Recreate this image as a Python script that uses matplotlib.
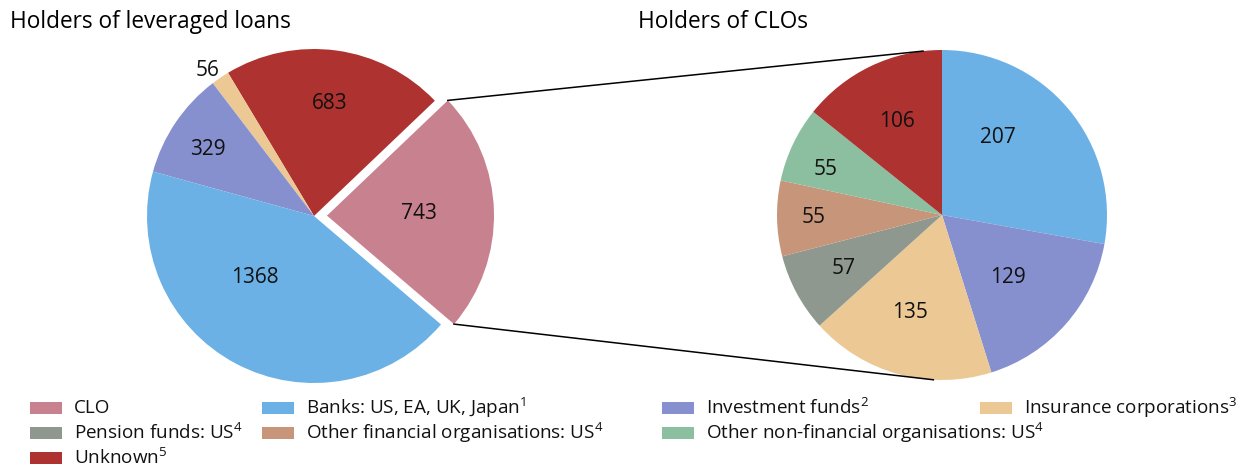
import matplotlib.pyplot as plt
from matplotlib.patches import Rectangle
import numpy as np

plt.rcParams['font.family'] = ['Open Sans', 'DejaVu Sans']

# left pie: holders of leveraged loans (USD bn)
loans_names = ["CLO", "Unknown", "Insurance corporations", "Investment funds", "Banks"]
loans_vals = [743, 683, 56, 329, 1368]

# right pie: holders of CLOs
clo_names = ["Banks", "Investment funds", "Insurance corporations", "Pension funds",
             "Other financial", "Other non-financial", "Unknown"]
clo_vals = [207, 129, 135, 57, 55, 55, 106]

colors = {
    "CLO": "#c8818f",
    "Banks": "#6cb1e6",
    "Investment funds": "#8790cf",
    "Insurance corporations": "#ecc994",
    "Pension funds": "#8e988f",
    "Other financial": "#c7967a",
    "Other non-financial": "#8cbf9f",
    "Unknown": "#ae3230",
}

legend_keys = ["CLO", "Banks", "Investment funds", "Insurance corporations",
               "Pension funds", "Other financial", "Other non-financial", "Unknown"]
legend_text = ["CLO", r"Banks: US, EA, UK, Japan$^{\mathregular{1}}$",
               r"Investment funds$^{\mathregular{2}}$", r"Insurance corporations$^{\mathregular{3}}$",
               r"Pension funds: US$^{\mathregular{4}}$", r"Other financial organisations: US$^{\mathregular{4}}$",
               r"Other non-financial organisations: US$^{\mathregular{4}}$", r"Unknown$^{\mathregular{5}}$"]

H = 471
fig = plt.figure(figsize=(12.4, 4.71), dpi=100)
ax = fig.add_axes([0, 0, 1, 1])

# left pie (explode is in data units here)
lc = (314, H - 216)
lr = 167
wl, _ = ax.pie(loans_vals, colors=[colors[n] for n in loans_names], startangle=-40.5,
               counterclock=True, center=lc, radius=lr, explode=[13, 0, 0, 0, 0],
               wedgeprops=dict(linewidth=0), frame=True)
# label placement: (radius fraction, angle offset)
l_pos = [(0.55, 0), (0.68, 0), (1.08, 2), (0.75, 2), (0.51, -16)]
for w, v, (rf, off) in zip(wl, loans_vals, l_pos):
    a = np.deg2rad((w.theta1 + w.theta2) / 2 + off)
    cx, cy = w.center
    ax.text(cx + rf * lr * np.cos(a), cy + rf * lr * np.sin(a), str(v),
            ha='center', va='center', fontsize=15, color='#111111')

# right pie
rc = (942, H - 215)
rr = 165
wr, _ = ax.pie(clo_vals, colors=[colors[n] for n in clo_names], startangle=90,
               counterclock=False, center=rc, radius=rr,
               wedgeprops=dict(linewidth=0), frame=True)
r_pos = [(0.58, 14), (0.55, -2), (0.62, -3), (0.68, 0), (0.78, 0), (0.76, 4), (0.63, 0)]
for w, v, (rf, off) in zip(wr, clo_vals, r_pos):
    a = np.deg2rad((w.theta1 + w.theta2) / 2 + off)
    ax.text(rc[0] + rf * rr * np.cos(a), rc[1] + rf * rr * np.sin(a), str(v),
            ha='center', va='center', fontsize=15, color='#111111')

ax.set_xlim(0, 1240)
ax.set_ylim(0, H)
ax.set_aspect('equal')
ax.axis('off')

# connector lines from the CLO wedge to the right pie
clo_w = wl[0]
cx, cy = clo_w.center
for th_l, th_r in [(clo_w.theta2, 96.6), (clo_w.theta1, -93)]:
    p1 = (cx + lr * np.cos(np.deg2rad(th_l)), cy + lr * np.sin(np.deg2rad(th_l)))
    p2 = (rc[0] + rr * np.cos(np.deg2rad(th_r)), rc[1] + rr * np.sin(np.deg2rad(th_r)))
    ax.plot([p1[0], p2[0]], [p1[1], p2[1]], color='black', lw=1.1)

# titles
ax.text(10, H - 22, "Holders of leveraged loans", fontsize=16.3, ha='left', va='center')
ax.text(638, H - 22, "Holders of CLOs", fontsize=16.3, ha='left', va='center')

# legend, placed by hand
col_x = [30, 262, 662, 980]
row_y = [408, 433, 458]
slots = [(0, 0), (0, 1), (0, 2), (0, 3), (1, 0), (1, 1), (1, 2), (2, 0)]
for key, txt, (r, c) in zip(legend_keys, legend_text, slots):
    x = col_x[c]
    y = H - row_y[r]
    ax.add_patch(Rectangle((x, y - 6), 32, 12, color=colors[key], lw=0))
    ax.text(x + 44, y, txt, fontsize=13.6, ha='left', va='center', color='#111111')

fig.savefig("out.png", dpi=100)
